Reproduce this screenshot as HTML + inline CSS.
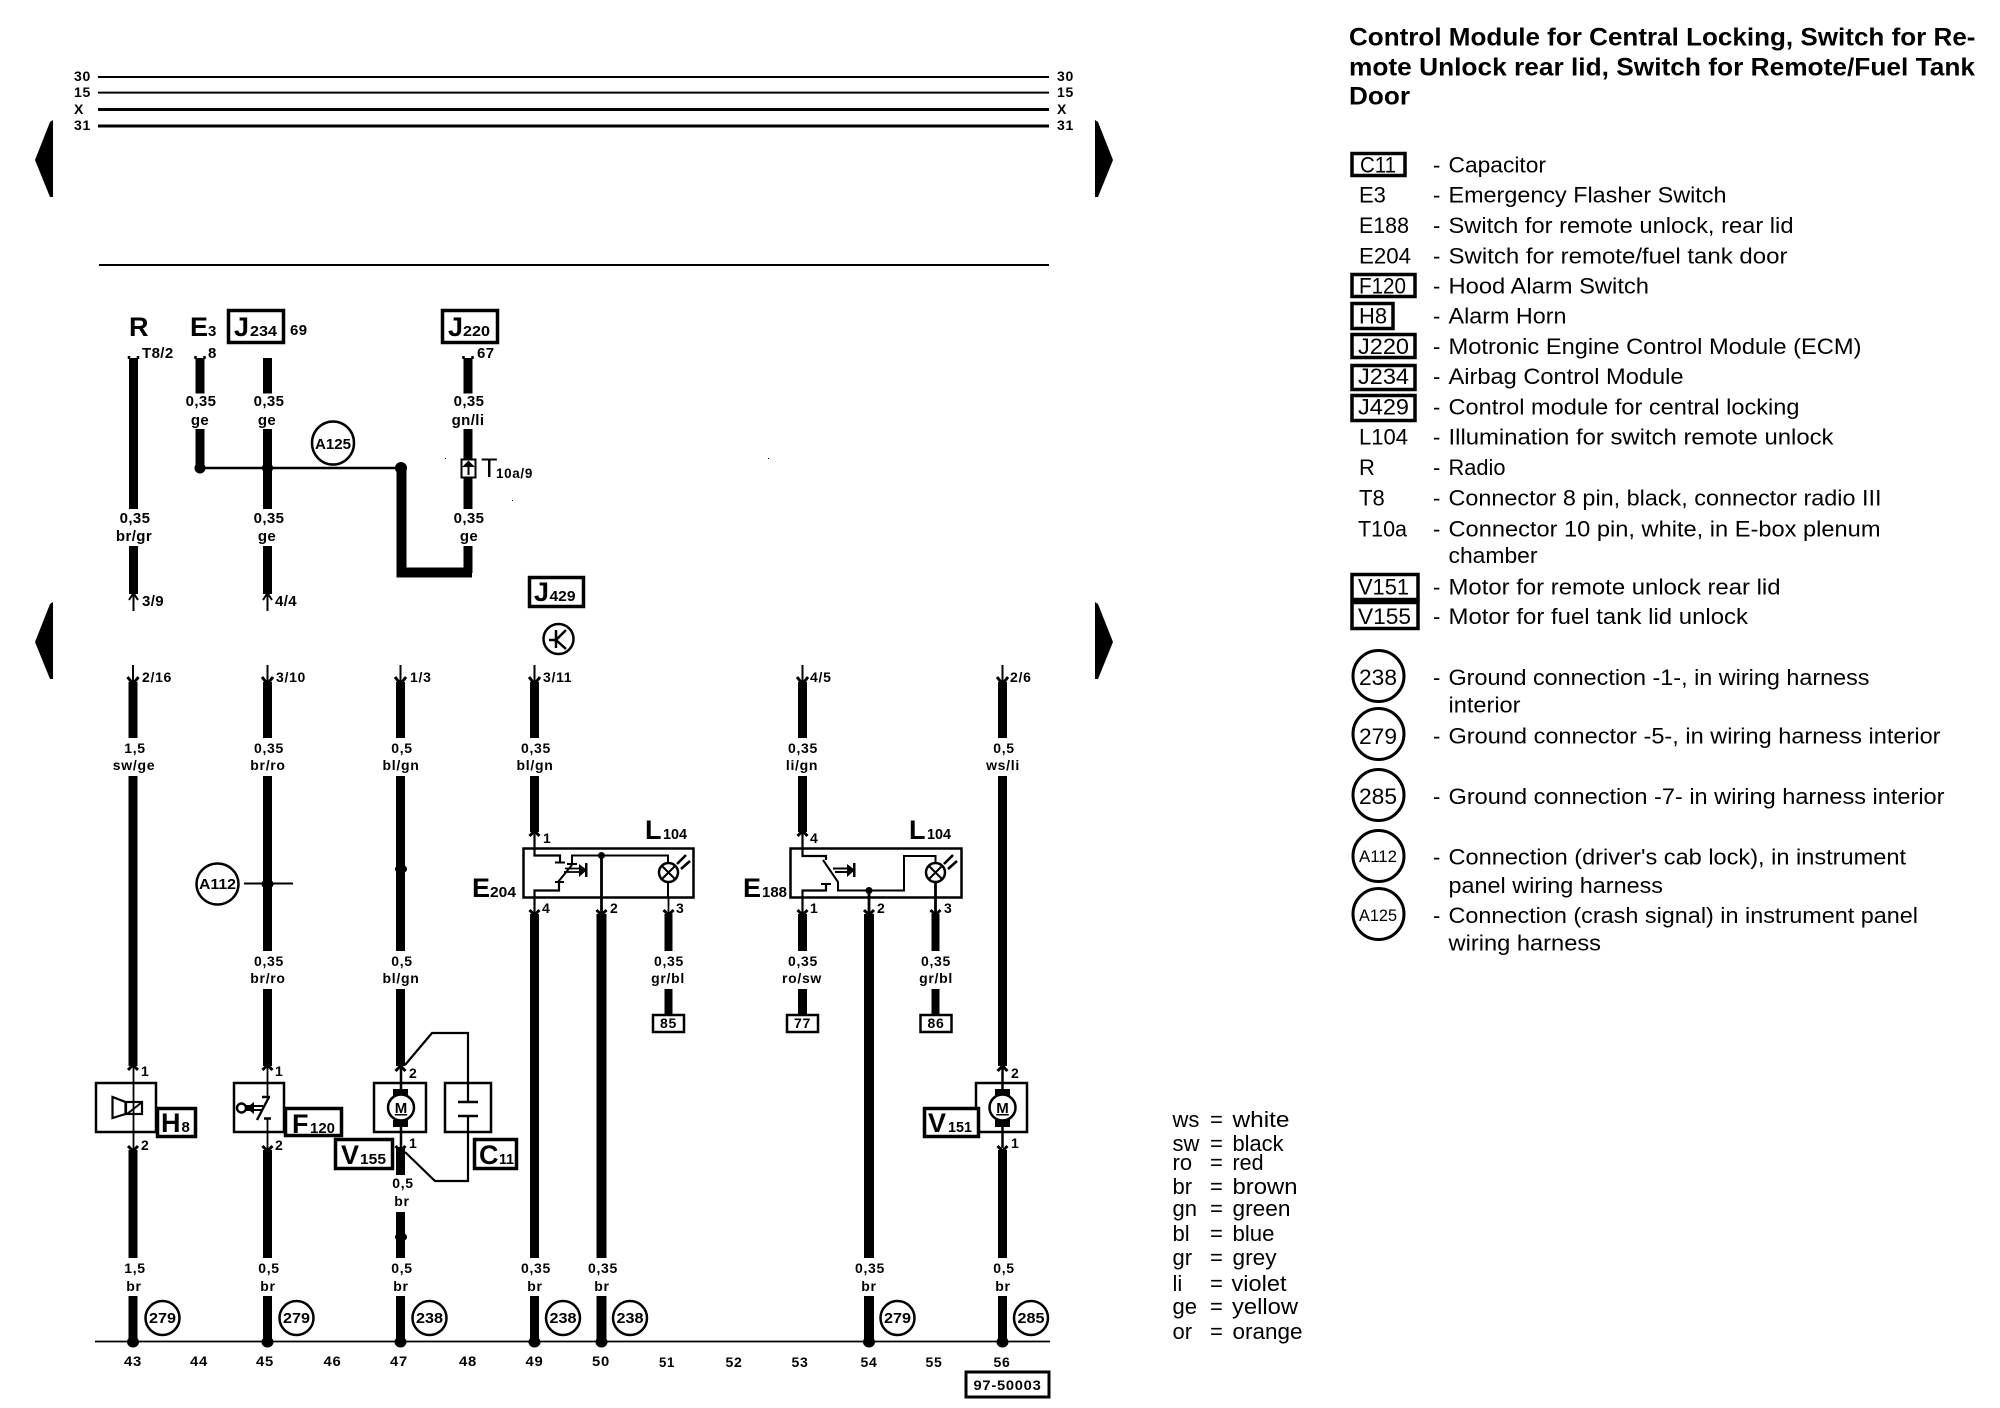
<!DOCTYPE html>
<html><head><meta charset="utf-8"><title>Wiring diagram</title>
<style>
html,body{margin:0;padding:0;background:#fff}
svg{display:block}
text{font-family:"Liberation Sans",sans-serif;fill:#000}
.l{font-weight:bold;font-size:14px;text-anchor:middle;letter-spacing:.7px}
.u{font-weight:bold;font-size:15px;text-anchor:middle;letter-spacing:.4px}
.n{font-weight:bold;font-size:14px;letter-spacing:.7px}
.g{font-weight:bold;font-size:15px;text-anchor:middle}
.b{font-weight:bold;font-size:27px}
.s{font-weight:bold;font-size:15px}
.t{font-weight:bold;font-size:25px}
.d{font-size:22px}
.c{font-size:22px}
.w{fill:none;stroke:#000;stroke-width:9}
.f{fill:none;stroke:#000;stroke-width:2.5}
.h{fill:none;stroke:#000;stroke-width:2}
.o{fill:#fff;stroke:#000;stroke-width:2.5}
.x{fill:#fff;stroke:#000;stroke-width:3.5}
.k{fill:#000;stroke:none}
</style></head>
<body>
<svg xmlns="http://www.w3.org/2000/svg" width="2000" height="1408" viewBox="0 0 2000 1408">
<rect width="2000" height="1408" fill="#fff"/>

<!-- rails -->
<path d="M98 77H1049M98 92.6H1049M99 265H1049" fill="none" stroke="#000" stroke-width="2"/>
<path d="M98 109.5H1049M98 126H1049" fill="none" stroke="#000" stroke-width="3"/>
<text class="n" x="74" y="81">30</text><text class="n" x="74" y="97">15</text><text class="n" x="74" y="114">X</text><text class="n" x="74" y="130">31</text>
<text class="n" x="1057" y="81">30</text><text class="n" x="1057" y="97">15</text><text class="n" x="1057" y="114">X</text><text class="n" x="1057" y="130">31</text>

<!-- page arrows -->
<polygon class="k" points="53,120 50,122 35,160 50,197 53,197"/>
<polygon class="k" points="53,602 50,604 35,642 50,679 53,679"/>
<polygon class="k" points="1095,120 1098,122 1113,160 1098,197 1095,197"/>
<polygon class="k" points="1095,602 1098,604 1113,642 1098,679 1095,679"/>

<!-- upper section wires -->
<path class="w" d="M133.5 358V509M133.5 546V594M200 358V393.5M200 429V467M267.5 358V393.5M267.5 429V509M267.5 546V594M468 358V393.5M468 429V509M468 546V573"/>
<path d="M401.5 468V572.5H472" fill="none" stroke="#000" stroke-width="10"/>
<path d="M200 468H401" fill="none" stroke="#000" stroke-width="2.6"/>
<circle class="k" cx="200" cy="468" r="5.5"/><circle class="k" cx="267.5" cy="468" r="5.5"/><circle class="k" cx="401" cy="468" r="6"/>
<path class="f" d="M129 356V359M138 356V359M195.5 356V359M204.5 356V359M463.5 356V359M472.5 356V359" stroke-width="1.8"/>
<path class="h" d="M133.5 594V611M267.5 594V611"/>
<path d="M129 600L133.5 593L138 600M263 600L267.5 593L272 600" fill="none" stroke="#000" stroke-width="2"/>

<text class="u" x="135" y="523">0,35</text><text class="u" x="134" y="541">br/gr</text>
<text class="u" x="201" y="406">0,35</text><text class="u" x="200" y="425">ge</text>
<text class="u" x="269" y="406">0,35</text><text class="u" x="267" y="425">ge</text>
<text class="u" x="269" y="523">0,35</text><text class="u" x="267" y="541">ge</text>
<text class="u" x="469" y="406">0,35</text><text class="u" x="468" y="425">gn/li</text>
<text class="u" x="469" y="523">0,35</text><text class="u" x="469" y="541">ge</text>
<text class="u" x="142" y="358" style="text-anchor:start">T8/2</text><text class="u" x="208" y="358" style="text-anchor:start">8</text><text class="u" x="477" y="358" style="text-anchor:start">67</text><text class="u" x="290" y="335" style="text-anchor:start">69</text>
<text class="u" x="142" y="606" style="text-anchor:start">3/9</text><text class="u" x="275" y="606" style="text-anchor:start">4/4</text>

<text class="b" x="129" y="336">R</text>
<text class="b" x="190" y="336">E</text><text class="s" x="208" y="336">3</text>
<rect class="x" x="228.5" y="310.5" width="55" height="32"/>
<text class="b" x="234" y="336">J</text><text class="s" x="250" y="336" textLength="27" lengthAdjust="spacingAndGlyphs">234</text>
<rect class="x" x="442.5" y="310.5" width="55" height="32"/>
<text class="b" x="448" y="336">J</text><text class="s" x="463" y="336" textLength="27" lengthAdjust="spacingAndGlyphs">220</text>
<rect class="x" x="529.5" y="577.5" width="54" height="29"/>
<text class="b" x="534" y="601">J</text><text class="s" x="549.5" y="601" textLength="26" lengthAdjust="spacingAndGlyphs">429</text>

<ellipse class="o" cx="333" cy="443" rx="21" ry="21.5"/>
<text class="g" x="333" y="449" textLength="36" lengthAdjust="spacingAndGlyphs">A125</text>

<!-- T10a connector -->
<rect x="461.5" y="459.5" width="14" height="18" fill="#fff" stroke="#000" stroke-width="2"/>
<path d="M468.5 462L464.5 466H472.5ZM468.5 466V475" fill="#000" stroke="#000" stroke-width="2"/>
<text class="b" x="481" y="477" style="font-weight:normal">T</text>
<text class="n" x="496" y="478" textLength="37" lengthAdjust="spacingAndGlyphs">10a/9</text>

<!-- J429 symbol -->
<circle fill="#fff" stroke="#000" stroke-width="2.5" cx="558.5" cy="639" r="15"/>
<path d="M556 630V648M566 630L556 640L566 649M549 640H556" fill="none" stroke="#000" stroke-width="2.5"/>

<!-- lower wires -->
<path d="M95 1341.5H1050" fill="none" stroke="#000" stroke-width="1.8"/>
<path class="w" d="M133 682V738M133 776V1066M133 1150V1258M133 1296V1342
M267.5 682V738M267.5 776V951M267.5 989V1066M267.5 1150V1258M267.5 1296V1342
M400.5 682V738M400.5 776V951M400.5 989V1066M400.5 1147V1175M400.5 1212V1258M400.5 1296V1342
M534.5 682V738M534.5 776V832M534.5 914V1258M534.5 1296V1342
M802.5 682V738M802.5 776V832M802.5 914V951M802.5 989V1015
M1002.5 682V738M1002.5 776V1066M1002.5 1150V1258M1002.5 1296V1342"/>
<path d="M601.5 914V1258M601.5 1296V1342M869 914V1258M869 1296V1342" fill="none" stroke="#000" stroke-width="10"/>
<path d="M668.5 914V951M668.5 989V1015M935.5 914V951M935.5 989V1015" fill="none" stroke="#000" stroke-width="8"/>

<!-- bus dots -->
<g class="k"><ellipse cx="133" cy="1342" rx="6" ry="5.5"/><ellipse cx="267.5" cy="1342" rx="6" ry="5.5"/><ellipse cx="400.5" cy="1342" rx="6" ry="5.5"/><ellipse cx="534.5" cy="1342" rx="6" ry="5.5"/><ellipse cx="601.5" cy="1342" rx="6" ry="5.5"/><ellipse cx="869" cy="1342" rx="6" ry="5.5"/><ellipse cx="1002.5" cy="1342" rx="6" ry="5.5"/>
<ellipse cx="401" cy="869" rx="6" ry="4.5"/><ellipse cx="401" cy="1237" rx="6" ry="4.5"/><ellipse cx="267.5" cy="884" rx="6" ry="5"/></g>

<!-- top arrows into wires -->
<path class="h" d="M133 665V682M267.5 665V682M400.5 665V682M534.5 665V682M802.5 665V682M1002.5 665V682"/>
<path d="M127.5 677L133 684L138.5 677M262 677L267.5 684L273 677M395 677L400.5 684L406 677M529 677L534.5 684L540 677M797 677L802.5 684L808 677M997 677L1002.5 684L1008 677" fill="none" stroke="#000" stroke-width="3"/>

<!-- number labels top -->
<text class="n" x="142" y="682">2/16</text><text class="n" x="276" y="682">3/10</text><text class="n" x="410" y="682">1/3</text><text class="n" x="543" y="682">3/11</text><text class="n" x="810" y="682">4/5</text><text class="n" x="1010" y="682">2/6</text>

<!-- wire labels -->
<text class="l" x="135" y="753">1,5</text><text class="l" x="134" y="770">sw/ge</text>
<text class="l" x="269" y="753">0,35</text><text class="l" x="268" y="770">br/ro</text>
<text class="l" x="402" y="753">0,5</text><text class="l" x="401" y="770">bl/gn</text>
<text class="l" x="536" y="753">0,35</text><text class="l" x="535" y="770">bl/gn</text>
<text class="l" x="803" y="753">0,35</text><text class="l" x="802" y="770">li/gn</text>
<text class="l" x="1004" y="753">0,5</text><text class="l" x="1003" y="770">ws/li</text>
<text class="l" x="269" y="966">0,35</text><text class="l" x="268" y="983">br/ro</text>
<text class="l" x="402" y="966">0,5</text><text class="l" x="401" y="983">bl/gn</text>
<text class="l" x="669" y="966">0,35</text><text class="l" x="668" y="983">gr/bl</text>
<text class="l" x="803" y="966">0,35</text><text class="l" x="802" y="983">ro/sw</text>
<text class="l" x="936" y="966">0,35</text><text class="l" x="936" y="983">gr/bl</text>
<text class="l" x="403" y="1188">0,5</text><text class="l" x="402" y="1206">br</text>
<text class="l" x="135" y="1273">1,5</text><text class="l" x="134" y="1291">br</text>
<text class="l" x="269" y="1273">0,5</text><text class="l" x="268" y="1291">br</text>
<text class="l" x="402" y="1273">0,5</text><text class="l" x="401" y="1291">br</text>
<text class="l" x="536" y="1273">0,35</text><text class="l" x="535" y="1291">br</text>
<text class="l" x="603" y="1273">0,35</text><text class="l" x="602" y="1291">br</text>
<text class="l" x="870" y="1273">0,35</text><text class="l" x="869" y="1291">br</text>
<text class="l" x="1004" y="1273">0,5</text><text class="l" x="1003" y="1291">br</text>

<!-- ground circles -->
<g class="o">
<circle cx="162.5" cy="1318" r="17"/><circle cx="296.5" cy="1318" r="17"/><circle cx="429.5" cy="1318" r="17"/><circle cx="563" cy="1318" r="17"/><circle cx="630" cy="1318" r="17"/><circle cx="897.5" cy="1318" r="17"/><circle cx="1031" cy="1318" r="17"/>
<ellipse cx="217.5" cy="884" rx="21" ry="20.5"/>
</g>
<path d="M244 883.5H293" fill="none" stroke="#000" stroke-width="2"/>
<text class="g" x="162.5" y="1323" textLength="27" lengthAdjust="spacingAndGlyphs">279</text><text class="g" x="296.5" y="1323" textLength="27" lengthAdjust="spacingAndGlyphs">279</text><text class="g" x="429.5" y="1323" textLength="27" lengthAdjust="spacingAndGlyphs">238</text><text class="g" x="563" y="1323" textLength="27" lengthAdjust="spacingAndGlyphs">238</text><text class="g" x="630" y="1323" textLength="27" lengthAdjust="spacingAndGlyphs">238</text><text class="g" x="897.5" y="1323" textLength="27" lengthAdjust="spacingAndGlyphs">279</text><text class="g" x="1031" y="1323" textLength="27" lengthAdjust="spacingAndGlyphs">285</text>
<text class="g" x="217.5" y="889" textLength="37" lengthAdjust="spacingAndGlyphs">A112</text>

<!-- column numbers -->
<g>
<text class="l" x="133" y="1366" textLength="18" lengthAdjust="spacingAndGlyphs">43</text><text class="l" x="199" y="1366" textLength="18" lengthAdjust="spacingAndGlyphs">44</text><text class="l" x="265" y="1366" textLength="18" lengthAdjust="spacingAndGlyphs">45</text><text class="l" x="332.5" y="1366" textLength="18" lengthAdjust="spacingAndGlyphs">46</text><text class="l" x="399" y="1366" textLength="18" lengthAdjust="spacingAndGlyphs">47</text><text class="l" x="468" y="1366" textLength="18" lengthAdjust="spacingAndGlyphs">48</text><text class="l" x="534.5" y="1366" textLength="18" lengthAdjust="spacingAndGlyphs">49</text><text class="l" x="601" y="1366" textLength="18" lengthAdjust="spacingAndGlyphs">50</text><text class="l" x="667" y="1367" textLength="16" lengthAdjust="spacingAndGlyphs">51</text><text class="l" x="734" y="1367" textLength="17" lengthAdjust="spacingAndGlyphs">52</text><text class="l" x="800" y="1367" textLength="17" lengthAdjust="spacingAndGlyphs">53</text><text class="l" x="869" y="1367" textLength="17" lengthAdjust="spacingAndGlyphs">54</text><text class="l" x="934" y="1367" textLength="17" lengthAdjust="spacingAndGlyphs">55</text><text class="l" x="1002" y="1367" textLength="17" lengthAdjust="spacingAndGlyphs">56</text>
</g>
<rect x="966" y="1372" width="83" height="25" fill="#fff" stroke="#000" stroke-width="3"/>
<text class="l" x="1007.5" y="1390" textLength="68" lengthAdjust="spacingAndGlyphs">97-50003</text>

<!-- pin caps for components -->
<path d="M128 1070L133 1065L138 1070M262.5 1070L267.5 1065L272.5 1070M395.5 1071L400.5 1066L405.5 1071M997.5 1071L1002.5 1066L1007.5 1071M529.5 836L534.5 831L539.5 836M797.5 836L802.5 831L807.5 836" fill="none" stroke="#000" stroke-width="3"/>
<path d="M128 1146L133 1151L138 1146M262.5 1146L267.5 1151L272.5 1146M395.5 1146L400.5 1151L405.5 1146M997.5 1146L1002.5 1151L1007.5 1146M529.5 910L534.5 915L539.5 910M596.5 910L601.5 915L606.5 910M663.5 910L668.5 915L673.5 910M797.5 910L802.5 915L807.5 910M864 910L869 915L874 910M930.5 910L935.5 915L940.5 910" fill="none" stroke="#000" stroke-width="3"/>

<!-- pin numbers -->
<text class="n" x="141" y="1076">1</text><text class="n" x="141" y="1150">2</text>
<text class="n" x="275" y="1076">1</text><text class="n" x="275" y="1150">2</text>
<text class="n" x="409" y="1078">2</text><text class="n" x="409" y="1148">1</text>
<text class="n" x="1011" y="1078">2</text><text class="n" x="1011" y="1148">1</text>
<text class="n" x="543" y="843">1</text><text class="n" x="542" y="913">4</text><text class="n" x="610" y="913">2</text><text class="n" x="676" y="913">3</text>
<text class="n" x="810" y="843">4</text><text class="n" x="810" y="913">1</text><text class="n" x="877" y="913">2</text><text class="n" x="944" y="913">3</text>

<!-- H8 horn -->
<rect class="o" x="96" y="1083" width="60" height="49"/>
<path d="M133.5 1066V1150" fill="none" stroke="#000" stroke-width="1.8"/>
<path d="M112.5 1097V1118L125.5 1114V1102Z" fill="none" stroke="#000" stroke-width="2.2"/>
<rect x="126" y="1102" width="16" height="12" fill="none" stroke="#000" stroke-width="2.2"/>
<path d="M127 1114L141 1103" fill="none" stroke="#000" stroke-width="2"/>
<rect class="x" x="157.5" y="1108.5" width="38" height="28"/>
<text class="b" x="161" y="1132">H</text><text class="s" x="181.5" y="1132">8</text>

<!-- F120 switch -->
<rect class="o" x="234" y="1083" width="50" height="49"/>
<path d="M267.5 1066V1097M267.5 1119V1150" fill="none" stroke="#000" stroke-width="1.8"/>
<path d="M262 1097H270M269 1097L257 1120M264 1118.5H271" fill="none" stroke="#000" stroke-width="2.4"/>
<circle cx="241.5" cy="1108" r="4.5" fill="#fff" stroke="#000" stroke-width="2.4"/>
<path d="M246 1106H263M246 1110H262" fill="none" stroke="#000" stroke-width="2"/>
<polygon class="k" points="246,1108 254,1102 254,1114"/>
<rect class="x" x="285.5" y="1108.5" width="56" height="27"/>
<text class="b" x="292" y="1133">F</text><text class="s" x="310" y="1133" textLength="25" lengthAdjust="spacingAndGlyphs">120</text>

<!-- V155 motor + C11 -->
<path d="M405 1065L432 1033H468V1102M468 1116V1181H435L405 1152" fill="none" stroke="#000" stroke-width="2.2"/>
<rect class="o" x="374" y="1083" width="52" height="49"/>
<rect x="445" y="1083" width="46" height="49" fill="none" stroke="#000" stroke-width="2.5"/>
<path d="M458 1102H478M458 1116H478" fill="none" stroke="#000" stroke-width="2.5"/>
<path d="M401 1066V1148" fill="none" stroke="#000" stroke-width="2.5"/>
<rect class="k" x="393" y="1089" width="15" height="7"/><rect class="k" x="393" y="1120" width="15" height="7"/>
<circle class="o" cx="401" cy="1107.5" r="13"/>
<text x="401" y="1113" style="font-weight:bold;font-size:15px;text-anchor:middle;text-decoration:underline">M</text>
<rect class="x" x="335.5" y="1139.5" width="57" height="29"/>
<text class="b" x="341" y="1164">V</text><text class="s" x="360" y="1164" textLength="26" lengthAdjust="spacingAndGlyphs">155</text>
<rect class="x" x="474.5" y="1139.5" width="42" height="29"/>
<text class="b" x="479" y="1164">C</text><text class="s" x="499" y="1164" textLength="15" lengthAdjust="spacingAndGlyphs">11</text>

<!-- V151 motor -->
<rect class="o" x="976" y="1083" width="51" height="49"/>
<path d="M1002.5 1066V1148" fill="none" stroke="#000" stroke-width="2.5"/>
<rect class="k" x="995" y="1089" width="15" height="7"/><rect class="k" x="995" y="1120" width="15" height="7"/>
<circle class="o" cx="1002.5" cy="1107.5" r="13"/>
<text x="1002.5" y="1113" style="font-weight:bold;font-size:15px;text-anchor:middle;text-decoration:underline">M</text>
<rect class="x" x="924.5" y="1108.5" width="54" height="28"/>
<text class="b" x="928" y="1132">V</text><text class="s" x="948" y="1132" textLength="24" lengthAdjust="spacingAndGlyphs">151</text>

<!-- E204 -->
<rect class="o" x="523.5" y="848.5" width="170" height="49"/>
<path d="M534.5 832V855.5H560V862M534.5 914V890.5H559V882" fill="none" stroke="#000" stroke-width="2.2"/>
<path d="M555 862.5H565M555 882H564M558 882L572 865M567 864H577M572 864V855.5H668V862M668 882V898" fill="none" stroke="#000" stroke-width="2"/>
<path d="M565 868.5H582M564 872H582" fill="none" stroke="#000" stroke-width="1.8"/>
<polygon class="k" points="579,864 587,870 579,877"/><rect class="k" x="585" y="863" width="2.5" height="14"/>
<path d="M601.5 855V914" fill="none" stroke="#000" stroke-width="2.8"/>
<circle class="k" cx="601.5" cy="855.5" r="3.5"/>
<circle fill="none" stroke="#000" stroke-width="2.5" cx="668.5" cy="872.5" r="9.5"/>
<path d="M662 866L675 879M675 866L662 879" fill="none" stroke="#000" stroke-width="2"/>
<path d="M677 864L686 855M681 869L690 861" fill="none" stroke="#000" stroke-width="2.6"/>
<path d="M668.5 897V914" fill="none" stroke="#000" stroke-width="1.8"/>
<text class="b" x="472" y="897">E</text><text class="s" x="490" y="897" textLength="26" lengthAdjust="spacingAndGlyphs">204</text>
<text class="b" x="645" y="839">L</text><text class="s" x="663" y="839" textLength="24" lengthAdjust="spacingAndGlyphs">104</text>

<!-- E188 -->
<rect class="o" x="790.5" y="848.5" width="171" height="49"/>
<path d="M802.5 832V856H826V860M802.5 914V890.5H826V884" fill="none" stroke="#000" stroke-width="2.2"/>
<path d="M821 884H831M823 860L838 882V890.5H904V856H935.5V862M833 868.5H850M835 872H850" fill="none" stroke="#000" stroke-width="2"/>
<polygon class="k" points="847,864 855,870 847,877"/><rect class="k" x="853" y="863" width="2.5" height="14"/>
<path d="M869 890V914" fill="none" stroke="#000" stroke-width="2.8"/>
<circle class="k" cx="869" cy="890.5" r="3.5"/>
<circle fill="none" stroke="#000" stroke-width="2.5" cx="935.5" cy="872.5" r="9.5"/>
<path d="M929 866L942 879M942 866L929 879" fill="none" stroke="#000" stroke-width="2"/>
<path d="M944 864L953 855M948 869L957 861" fill="none" stroke="#000" stroke-width="2.6"/>
<path d="M935.5 882V914" fill="none" stroke="#000" stroke-width="2.8"/>
<text class="b" x="743" y="897">E</text><text class="s" x="762" y="897" textLength="25" lengthAdjust="spacingAndGlyphs">188</text>
<text class="b" x="909" y="839">L</text><text class="s" x="927" y="839" textLength="24" lengthAdjust="spacingAndGlyphs">104</text>

<!-- terminal boxes -->
<rect x="653" y="1015" width="31" height="17" fill="#fff" stroke="#000" stroke-width="2.5"/><text class="l" x="668.5" y="1028">85</text>
<rect x="787" y="1015" width="31" height="17" fill="#fff" stroke="#000" stroke-width="2.5"/><text class="l" x="802.5" y="1028">77</text>
<rect x="920.5" y="1015" width="31" height="17" fill="#fff" stroke="#000" stroke-width="2.5"/><text class="l" x="936" y="1028">86</text>

<!-- specks -->
<rect class="k" x="445" y="458" width="1" height="1"/><rect class="k" x="768" y="458" width="1" height="1"/><rect class="k" x="512" y="500" width="1" height="1"/>

<!-- colour legend -->
<g class="c">
<text class="c" x="1172.5" y="1127">ws</text><text class="c" x="1210" y="1127">=</text><text class="c" x="1232.5" y="1127" textLength="57" lengthAdjust="spacingAndGlyphs">white</text>
<text class="c" x="1172.5" y="1151">sw</text><text class="c" x="1210" y="1151">=</text><text class="c" x="1232.5" y="1151" textLength="51" lengthAdjust="spacingAndGlyphs">black</text>
<text class="c" x="1172.5" y="1170">ro</text><text class="c" x="1210" y="1170">=</text><text class="c" x="1232.5" y="1170" textLength="31" lengthAdjust="spacingAndGlyphs">red</text>
<text class="c" x="1172.5" y="1194">br</text><text class="c" x="1210" y="1194">=</text><text class="c" x="1232.5" y="1194" textLength="65" lengthAdjust="spacingAndGlyphs">brown</text>
<text class="c" x="1172.5" y="1216">gn</text><text class="c" x="1210" y="1216">=</text><text class="c" x="1232.5" y="1216" textLength="58" lengthAdjust="spacingAndGlyphs">green</text>
<text class="c" x="1172.5" y="1241">bl</text><text class="c" x="1210" y="1241">=</text><text class="c" x="1232.5" y="1241" textLength="42" lengthAdjust="spacingAndGlyphs">blue</text>
<text class="c" x="1172.5" y="1265">gr</text><text class="c" x="1210" y="1265">=</text><text class="c" x="1232.5" y="1265" textLength="44" lengthAdjust="spacingAndGlyphs">grey</text>
<text class="c" x="1172.5" y="1291">li</text><text class="c" x="1210" y="1291">=</text><text class="c" x="1231.5" y="1291" textLength="55" lengthAdjust="spacingAndGlyphs">violet</text>
<text class="c" x="1172.5" y="1314">ge</text><text class="c" x="1210" y="1314">=</text><text class="c" x="1232" y="1314" textLength="66" lengthAdjust="spacingAndGlyphs">yellow</text>
<text class="c" x="1172.5" y="1339">or</text><text class="c" x="1210" y="1339">=</text><text class="c" x="1232.5" y="1339" textLength="70" lengthAdjust="spacingAndGlyphs">orange</text>
</g>

<!-- title -->
<text class="t" x="1349" y="45.5" textLength="626.5" lengthAdjust="spacingAndGlyphs">Control Module for Central Locking, Switch for Re-</text>
<text class="t" x="1349" y="75.5" textLength="626" lengthAdjust="spacingAndGlyphs">mote Unlock rear lid, Switch for Remote/Fuel Tank</text>
<text class="t" x="1349" y="104.5" textLength="61" lengthAdjust="spacingAndGlyphs">Door</text>

<!-- legend boxes -->
<rect class="x" x="1352" y="153.5" width="53" height="22" style="fill:none"/>
<rect class="x" x="1352" y="274.5" width="63" height="22" style="fill:none"/>
<rect class="x" x="1352" y="303.5" width="41" height="25" style="fill:none"/>
<rect class="x" x="1352" y="334.5" width="63" height="23" style="fill:none"/>
<rect class="x" x="1352" y="365.5" width="63" height="24" style="fill:none"/>
<rect class="x" x="1352" y="395.5" width="63" height="25" style="fill:none"/>
<rect class="x" x="1352" y="574.5" width="66" height="25" style="fill:none"/>
<rect class="x" x="1352" y="602.5" width="66" height="26" style="fill:none"/>

<!-- legend codes -->
<text class="d" x="1360" y="172.5" textLength="36" lengthAdjust="spacingAndGlyphs">C11</text>
<text class="d" x="1359" y="202.5">E3</text>
<text class="d" x="1359" y="233" textLength="50" lengthAdjust="spacingAndGlyphs">E188</text>
<text class="d" x="1359" y="263.5" textLength="52" lengthAdjust="spacingAndGlyphs">E204</text>
<text class="d" x="1359" y="293.5" textLength="47" lengthAdjust="spacingAndGlyphs">F120</text>
<text class="d" x="1359" y="323.5" textLength="28" lengthAdjust="spacingAndGlyphs">H8</text>
<text class="d" x="1358" y="354" textLength="51" lengthAdjust="spacingAndGlyphs">J220</text>
<text class="d" x="1358" y="384" textLength="51" lengthAdjust="spacingAndGlyphs">J234</text>
<text class="d" x="1358" y="414.5" textLength="51" lengthAdjust="spacingAndGlyphs">J429</text>
<text class="d" x="1359" y="444.5" textLength="49" lengthAdjust="spacingAndGlyphs">L104</text>
<text class="d" x="1359" y="475">R</text>
<text class="d" x="1359" y="505.5">T8</text>
<text class="d" x="1358" y="536.5" textLength="49" lengthAdjust="spacingAndGlyphs">T10a</text>
<text class="d" x="1358" y="594.5" textLength="51" lengthAdjust="spacingAndGlyphs">V151</text>
<text class="d" x="1358" y="624" textLength="53" lengthAdjust="spacingAndGlyphs">V155</text>

<!-- legend circles -->
<g fill="none" stroke="#000" stroke-width="3">
<circle cx="1378.5" cy="676" r="25.5"/><circle cx="1378.5" cy="734" r="25.5"/><circle cx="1378.5" cy="795" r="25.5"/><circle cx="1378.5" cy="856" r="25.5"/><circle cx="1378.5" cy="914" r="25.5"/>
</g>
<text class="d" x="1359" y="685" textLength="38" lengthAdjust="spacingAndGlyphs">238</text>
<text class="d" x="1359" y="744" textLength="38" lengthAdjust="spacingAndGlyphs">279</text>
<text class="d" x="1359" y="804" textLength="38" lengthAdjust="spacingAndGlyphs">285</text>
<text x="1359" y="862" textLength="38" lengthAdjust="spacingAndGlyphs" style="font-size:17px">A112</text>
<text x="1359" y="921" textLength="38" lengthAdjust="spacingAndGlyphs" style="font-size:17px">A125</text>

<!-- legend dashes -->
<g>
<text class="d" x="1433" y="172.5">-</text><text class="d" x="1433" y="202.5">-</text><text class="d" x="1433" y="233">-</text><text class="d" x="1433" y="263.5">-</text><text class="d" x="1433" y="293.5">-</text><text class="d" x="1433" y="323.5">-</text><text class="d" x="1433" y="354">-</text><text class="d" x="1433" y="384">-</text><text class="d" x="1433" y="414.5">-</text><text class="d" x="1433" y="444.5">-</text><text class="d" x="1433" y="475">-</text><text class="d" x="1433" y="505.5">-</text><text class="d" x="1433" y="536.5">-</text><text class="d" x="1433" y="594.5">-</text><text class="d" x="1433" y="624">-</text><text class="d" x="1433" y="685">-</text><text class="d" x="1433" y="743.5">-</text><text class="d" x="1433" y="804">-</text><text class="d" x="1433" y="864.5">-</text><text class="d" x="1433" y="923">-</text>
</g>

<!-- legend descriptions -->
<text class="d" x="1448.5" y="172.5" textLength="97.5" lengthAdjust="spacingAndGlyphs">Capacitor</text>
<text class="d" x="1448.5" y="202.5" textLength="278" lengthAdjust="spacingAndGlyphs">Emergency Flasher Switch</text>
<text class="d" x="1448.5" y="233" textLength="345" lengthAdjust="spacingAndGlyphs">Switch for remote unlock, rear lid</text>
<text class="d" x="1448.5" y="263.5" textLength="339" lengthAdjust="spacingAndGlyphs">Switch for remote/fuel tank door</text>
<text class="d" x="1448.5" y="293.5" textLength="200.5" lengthAdjust="spacingAndGlyphs">Hood Alarm Switch</text>
<text class="d" x="1448.5" y="323.5" textLength="118" lengthAdjust="spacingAndGlyphs">Alarm Horn</text>
<text class="d" x="1448.5" y="354" textLength="413" lengthAdjust="spacingAndGlyphs">Motronic Engine Control Module (ECM)</text>
<text class="d" x="1448.5" y="384" textLength="235" lengthAdjust="spacingAndGlyphs">Airbag Control Module</text>
<text class="d" x="1448.5" y="414.5" textLength="351" lengthAdjust="spacingAndGlyphs">Control module for central locking</text>
<text class="d" x="1448.5" y="444.5" textLength="385" lengthAdjust="spacingAndGlyphs">Illumination for switch remote unlock</text>
<text class="d" x="1448.5" y="475" textLength="57" lengthAdjust="spacingAndGlyphs">Radio</text>
<text class="d" x="1448.5" y="505.5" textLength="433" lengthAdjust="spacingAndGlyphs">Connector 8 pin, black, connector radio III</text>
<text class="d" x="1448.5" y="536.5" textLength="432" lengthAdjust="spacingAndGlyphs">Connector 10 pin, white, in E-box plenum</text>
<text class="d" x="1448.5" y="563" textLength="89" lengthAdjust="spacingAndGlyphs">chamber</text>
<text class="d" x="1448.5" y="594.5" textLength="332" lengthAdjust="spacingAndGlyphs">Motor for remote unlock rear lid</text>
<text class="d" x="1448.5" y="624" textLength="299.5" lengthAdjust="spacingAndGlyphs">Motor for fuel tank lid unlock</text>
<text class="d" x="1448.5" y="685" textLength="421" lengthAdjust="spacingAndGlyphs">Ground connection -1-, in wiring harness</text>
<text class="d" x="1448.5" y="712.5" textLength="72" lengthAdjust="spacingAndGlyphs">interior</text>
<text class="d" x="1448.5" y="743.5" textLength="492" lengthAdjust="spacingAndGlyphs">Ground connector -5-, in wiring harness interior</text>
<text class="d" x="1448.5" y="804" textLength="496" lengthAdjust="spacingAndGlyphs">Ground connection -7- in wiring harness interior</text>
<text class="d" x="1448.5" y="864.5" textLength="457.5" lengthAdjust="spacingAndGlyphs">Connection (driver's cab lock), in instrument</text>
<text class="d" x="1448.5" y="893" textLength="214.5" lengthAdjust="spacingAndGlyphs">panel wiring harness</text>
<text class="d" x="1448.5" y="923" textLength="469.5" lengthAdjust="spacingAndGlyphs">Connection (crash signal) in instrument panel</text>
<text class="d" x="1448.5" y="950.5" textLength="152.5" lengthAdjust="spacingAndGlyphs">wiring harness</text>
</svg>
</body></html>
